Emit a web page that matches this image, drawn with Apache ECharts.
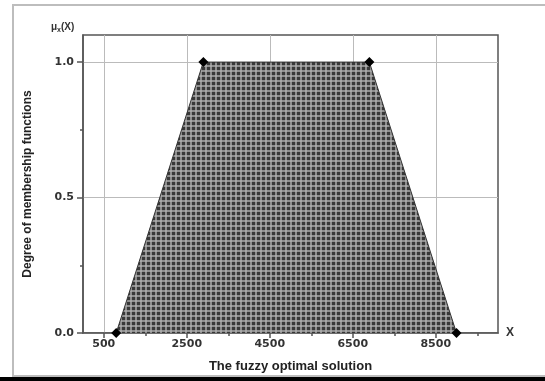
<!DOCTYPE html>
<html><head><meta charset="utf-8">
<script src="https://cdn.jsdelivr.net/npm/echarts@6/dist/echarts.min.js"></script>
<style>html,body{margin:0;padding:0;background:#fff}#c{width:545px;height:381px}</style>
</head><body><div id="c"></div>
<script>
var xValues = [800, 2900, 6900, 9000];
var yValues = [0, 1, 1, 0];
var xTickLabels = [500, 2500, 4500, 6500, 8500];
var xMinorTicks = [1500, 3500, 5500, 7500, 9500];
var yTickLabels = [0, 0.5, 1.0];
var yMinorTicks = [0.25, 0.75];

var pc = document.createElement('canvas');
pc.width = 5; pc.height = 5;
var g = pc.getContext('2d');
g.fillStyle = '#383838'; g.fillRect(0,0,5,5);
g.fillStyle = '#8e8e8e'; g.fillRect(0,0,5,2); g.fillRect(0,0,2,5);
g.fillStyle = '#a8a8a8'; g.fillRect(0,0,2,2);

var font = 'Liberation Sans, Arial, sans-serif';
var tickFont = 'DejaVu Sans, sans-serif';
var chart = echarts.init(document.getElementById('c'), null, {renderer:'canvas'});
chart.setOption({
  animation:false,
  grid:{left:83,right:47,top:35,bottom:48,show:true,borderColor:'#555',borderWidth:1.5,backgroundColor:'transparent'},
  graphic:[
    {type:'rect',shape:{x:13,y:5,width:545,height:371},style:{fill:'none',stroke:'#bdbdbd',lineWidth:2},z:-10},
    {type:'rect',shape:{x:0,y:377,width:545,height:4},style:{fill:'#000'},z:-10},
    {type:'text',left:51,top:22,style:{text:'{a|μ}{b|x}{a|(X)}',rich:{a:{fontSize:10,fontWeight:'bold',fontFamily:font,fill:'#333'},b:{fontSize:7,fontWeight:'bold',fontFamily:font,fill:'#333',padding:[6,0,0,0]}}}}
  ],
  xAxis:[{
    type:'value',min:0,max:10000,
    name:'The fuzzy optimal solution',nameLocation:'middle',nameGap:27,
    nameTextStyle:{fontSize:13,fontWeight:'bold',fontFamily:font,color:'#222'},
    axisLine:{show:true,onZero:false,lineStyle:{color:'#555',width:1.5}},
    axisTick:{show:true,customValues:xTickLabels,length:5,lineStyle:{color:'#555',width:1.5}},
    axisLabel:{customValues:xTickLabels,formatter:function(v){return String(v);},fontSize:11,fontWeight:'bold',fontFamily:tickFont,color:'#333',margin:6},
    splitLine:{show:true,lineStyle:{color:'#bbb',width:1}}
  },{
    type:'value',min:0,max:10000,position:'bottom',
    name:'X',nameLocation:'end',nameGap:8,
    nameTextStyle:{fontSize:12,fontWeight:'bold',fontFamily:font,color:'#333',padding:[14,0,0,0]},
    axisLine:{show:false},
    axisTick:{show:true,customValues:xMinorTicks,length:3,lineStyle:{color:'#555',width:1.5}},
    axisLabel:{show:false},splitLine:{show:false}
  }],
  yAxis:[{
    type:'value',min:0,max:1.1,
    name:'Degree of membership functions',nameLocation:'middle',nameGap:49,
    nameTextStyle:{fontSize:12,fontWeight:'bold',fontFamily:font,color:'#222'},
    axisLine:{show:true,onZero:false,lineStyle:{color:'#555',width:1.5}},
    axisTick:{show:true,customValues:yTickLabels,length:6,lineStyle:{color:'#555',width:1.5}},
    axisLabel:{customValues:yTickLabels,formatter:function(v){return v.toFixed(1);},fontSize:11,fontWeight:'bold',fontFamily:tickFont,color:'#333',margin:9},
    splitLine:{show:true,lineStyle:{color:'#bbb',width:1}}
  },{
    type:'value',min:0,max:1.1,position:'left',
    axisLine:{show:false},
    axisTick:{show:true,customValues:yMinorTicks,length:3,lineStyle:{color:'#555',width:1.5}},
    axisLabel:{show:false},splitLine:{show:false}
  }],
  series:[{
    type:'line',xAxisIndex:0,yAxisIndex:0,
    data:xValues.map(function(x,i){return [x,yValues[i]];}),
    symbol:'diamond',symbolSize:10,
    itemStyle:{color:'#000'},
    lineStyle:{color:'#333',width:1},
    areaStyle:{color:{image:pc,repeat:'repeat'},opacity:1},
    z:3
  }]
});
</script></body></html>
